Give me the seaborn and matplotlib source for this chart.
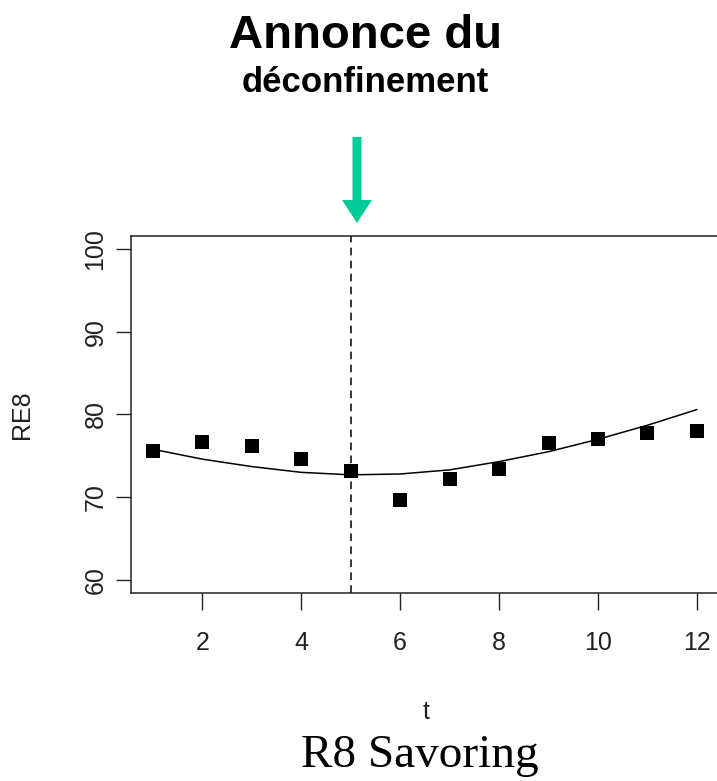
import matplotlib
matplotlib.use("Agg")
import matplotlib.pyplot as plt
from matplotlib.patches import FancyArrow
import seaborn as sns
import pandas as pd

# ---- data ----
t_values = [1, 2, 3, 4, 5, 6, 7, 8, 9, 10, 11, 12]
re8_observed = [75.55, 76.65, 76.15, 74.6, 73.2, 69.6, 72.2, 73.4, 76.5, 77.05, 77.8, 78.05]
re8_fitted = [75.8, 74.6, 73.7, 73.0, 72.7, 72.8, 73.3, 74.3, 75.5, 77.0, 78.7, 80.6]
x_ticks = [2, 4, 6, 8, 10, 12]
y_ticks = [60, 70, 80, 90, 100]
event_t = 5

df = pd.DataFrame({"t": t_values, "obs": re8_observed, "fit": re8_fitted})

sns.set_style("white")
plt.rcParams["font.family"] = ["Liberation Sans", "DejaVu Sans"]

W, H = 717, 781
fig = plt.figure(figsize=(W / 100, H / 100), dpi=100)
left, right, top, bottom = 131, 718.7, 236, 593
ax = fig.add_axes([left / W, (H - bottom) / H, (right - left) / W, (bottom - top) / H])

sns.lineplot(data=df, x="t", y="fit", ax=ax, color="black", lw=1.1)
sns.scatterplot(data=df, x="t", y="obs", ax=ax, marker="s", color="black",
                s=95, linewidth=0, zorder=3)
ax.axvline(event_t, color="black", lw=1.1, ls=(0, (5, 3.5)))

ax.set_xlim(0.56, 12.44)
ax.set_ylim(58.4, 101.6)
ax.set_xticks(x_ticks)
ax.set_yticks(y_ticks)
ax.set_xticklabels([str(v) for v in x_ticks], fontsize=18, color="#222222")
ax.set_yticklabels([str(v) for v in y_ticks], fontsize=18, color="#222222",
                   rotation=90, va="center")
ax.tick_params(axis="x", bottom=True, length=12, width=1, pad=15, color="#222222", direction="out")
ax.tick_params(axis="y", left=True, length=11, width=1, pad=6, color="#222222", direction="out")
ax.set_xlabel("")
ax.set_ylabel("")
for s in ax.spines.values():
    s.set_color("#222222")
    s.set_linewidth(1.1)
    s.set_visible(True)

fig.text(22 / W, 1 - 415 / H, "RE8", rotation=90, ha="center", va="center",
         fontsize=18, color="#222222")
fig.text(426 / W, 1 - 712 / H, "t", ha="center", va="center", fontsize=18,
         color="#222222")
fig.text(420 / W, 1 - 756 / H, "R8 Savoring", ha="center", va="center",
         fontsize=34, family=["Liberation Serif", "DejaVu Serif"], color="black")
fig.text(365 / W, 1 - 36 / H, "Annonce du", ha="center", va="center",
         fontsize=34, fontweight="bold", color="black")
fig.text(365 / W, 1 - 82 / H, "déconfinement", ha="center", va="center",
         fontsize=25, fontweight="bold", color="black")

arrow = FancyArrow(357 / 100, (H - 137) / 100, 0, -(223 - 137) / 100,
                   width=0.09, head_width=0.30, head_length=0.23,
                   length_includes_head=True, color="#00CC99", lw=0,
                   transform=fig.dpi_scale_trans)
fig.add_artist(arrow)

fig.savefig("out.png", dpi=100)
